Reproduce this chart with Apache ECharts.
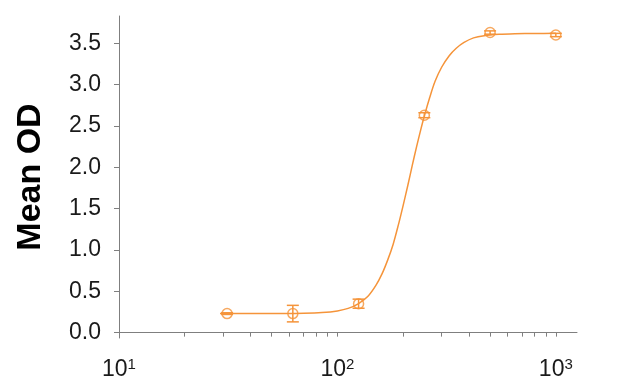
<!DOCTYPE html>
<html>
<head>
<meta charset="utf-8">
<script src="https://cdn.jsdelivr.net/npm/echarts@6/dist/echarts.min.js"></script>
<style>html,body{margin:0;padding:0;background:#fff}#c{width:621px;height:392px}</style>
</head>
<body>
<div id="c"></div>
<script>
// Measured points (concentration, mean OD, error)
const concentrations = [31.25, 62.5, 125, 250, 500, 1000];
const meanOD = [0.23, 0.23, 0.35, 2.63, 3.63, 3.60];
const errOD = [0.01, 0.10, 0.055, 0.03, 0.02, 0.02];

// Fitted curve
const curveX = [29, 40, 55, 70, 85, 100, 112, 125, 138, 150, 160, 170, 180, 190, 200, 210, 220, 230, 240, 250, 265, 280, 300, 325, 350, 380, 420, 470, 550, 650, 800, 1000];
const curveY = [0.23, 0.23, 0.231, 0.234, 0.243, 0.263, 0.293, 0.352, 0.44, 0.571, 0.71, 0.88, 1.07, 1.30, 1.54, 1.78, 2.02, 2.24, 2.44, 2.62, 2.85, 3.04, 3.21, 3.35, 3.44, 3.51, 3.565, 3.592, 3.608, 3.615, 3.619, 3.62];

const xTickLabels = [10, 100, 1000];
const xTicks = [10,20,30,40,50,60,70,80,90,100,200,300,400,500,600,700,800,900,1000];
const yTickLabels = [0, 0.5, 1, 1.5, 2, 2.5, 3, 3.5];

const ORANGE = '#F5943A';
const AXIS = '#7f7f7f';
const FONT = 'Liberation Sans, Arial, sans-serif';

const chart = echarts.init(document.getElementById('c'), null, {renderer: 'canvas'});

const curveData = curveX.map((x, i) => [x, curveY[i]]);
const pointData = concentrations.map((x, i) => [x, meanOD[i]]);
const errData = concentrations.map((x, i) => [x, meanOD[i] - errOD[i], meanOD[i] + errOD[i]]);

chart.setOption({
  animation: false,
  grid: {left: 119, top: 16, width: 458, height: 322},
  xAxis: {
    type: 'log',
    logBase: 10,
    min: 10,
    max: 1250,
    axisLine: {show: true, lineStyle: {color: AXIS, width: 1}},
    axisTick: {show: true, length: 4, inside: false, customValues: xTicks, lineStyle: {color: AXIS}},
    minorTick: {show: false},
    splitLine: {show: false},
    axisLabel: {
      customValues: xTickLabels,
      margin: 19,
      color: '#1a1a1a',
      fontFamily: FONT,
      fontSize: 23,
      formatter: function (v) {
        const e = Math.round(Math.log10(v));
        return '{b|10}{s|' + e + '}';
      },
      rich: {
        b: {fontSize: 23, fontFamily: FONT, color: '#1a1a1a'},
        s: {fontSize: 15, fontFamily: FONT, color: '#1a1a1a', padding: [0, 0, 10, 0]}
      }
    }
  },
  yAxis: {
    type: 'value',
    min: -0.065,
    max: 3.83,
    name: 'Mean OD',
    nameLocation: 'middle',
    nameGap: 71,
    nameTextStyle: {fontSize: 34, fontWeight: 'bold', color: '#000', fontFamily: FONT},
    axisLine: {show: true, lineStyle: {color: AXIS, width: 1}},
    axisTick: {show: true, length: 5, customValues: yTickLabels, lineStyle: {color: AXIS}},
    splitLine: {show: false},
    axisLabel: {
      customValues: yTickLabels,
      margin: 18,
      color: '#1a1a1a',
      fontSize: 23,
      fontFamily: FONT,
      formatter: v => v.toFixed(1)
    }
  },
  series: [
    {
      type: 'line',
      data: curveData,
      smooth: 0.3,
      showSymbol: false,
      lineStyle: {color: ORANGE, width: 1.5},
      z: 2
    },
    {
      type: 'custom',
      data: errData,
      renderItem: function (params, api) {
        const x = api.value(0);
        const lo = api.coord([x, api.value(1)]);
        const hi = api.coord([x, api.value(2)]);
        const cw = 6;
        const style = {stroke: ORANGE, lineWidth: 1.5, fill: null};
        return {
          type: 'group',
          children: [
            {type: 'line', shape: {x1: lo[0], y1: lo[1], x2: hi[0], y2: hi[1]}, style: style},
            {type: 'line', shape: {x1: lo[0] - cw, y1: lo[1], x2: lo[0] + cw, y2: lo[1]}, style: style},
            {type: 'line', shape: {x1: hi[0] - cw, y1: hi[1], x2: hi[0] + cw, y2: hi[1]}, style: style}
          ]
        };
      },
      z: 3
    },
    {
      type: 'scatter',
      data: pointData,
      symbol: 'circle',
      symbolSize: 10,
      itemStyle: {color: 'rgba(0,0,0,0)', borderColor: ORANGE, borderWidth: 1.5},
      z: 4
    }
  ]
});
</script>
</body>
</html>
